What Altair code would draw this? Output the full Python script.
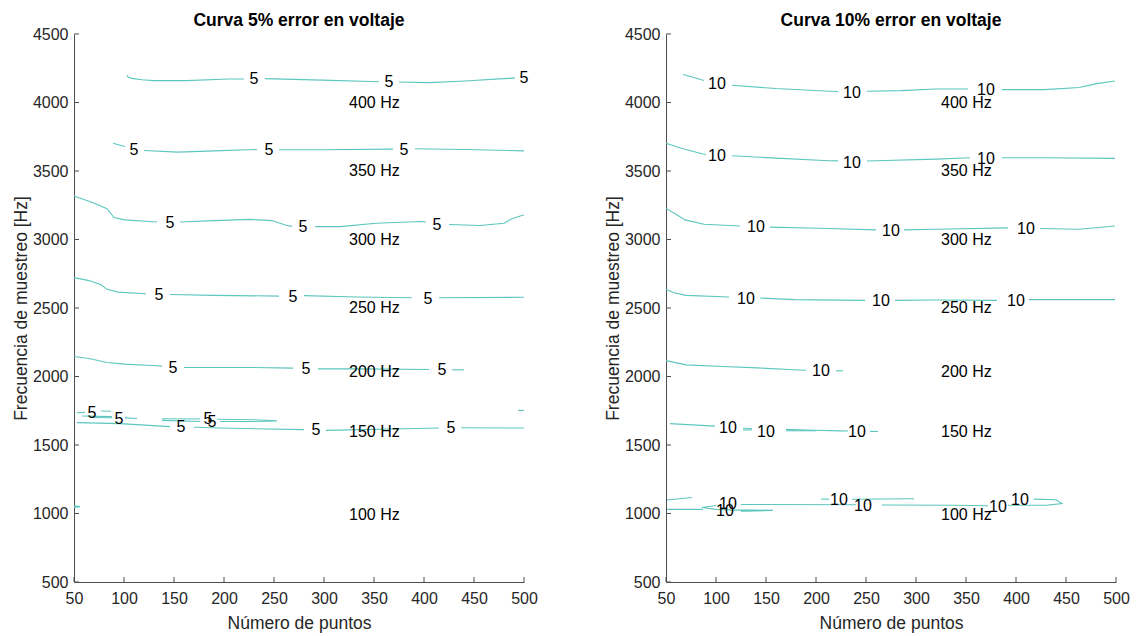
import altair as alt
import pandas as pd

FONT = "Liberation Sans"
LINE_COLOR = "#5cc6bf"

X_TICKS = [50, 100, 150, 200, 250, 300, 350, 400, 450, 500]
Y_TICKS = [500, 1000, 1500, 2000, 2500, 3000, 3500, 4000, 4500]

HZ_X = [325, 325, 325, 325, 325, 325, 325]
HZ_Y = [4000, 3500, 3000, 2500, 2030, 1592, 990]
HZ_TEXT = ["400 Hz", "350 Hz", "300 Hz", "250 Hz", "200 Hz", "150 Hz", "100 Hz"]

# ---------------- Left panel: 5 % contour ----------------
L400 = [
    [(103, 4198), (104, 4186), (108, 4176), (118, 4166), (130, 4160), (162, 4160), (205, 4172), (220, 4172)],
    [(241, 4174), (298, 4163), (355, 4152)],
    [(375, 4150), (405, 4145), (441, 4157), (484, 4176), (491, 4180)],
]
L350 = [
    [(89, 3703), (101, 3679)],
    [(120, 3650), (154, 3638), (190, 3647), (233, 3657)],
    [(255, 3655), (298, 3655), (369, 3660)],
    [(391, 3662), (441, 3657), (500, 3647)],
]
L300 = [
    [(50, 3317), (69, 3268), (83, 3225), (90, 3160), (101, 3143), (133, 3128)],
    [(156, 3128), (190, 3138), (226, 3147), (248, 3138), (262, 3104), (268, 3096)],
    [(291, 3094), (316, 3094), (352, 3119), (398, 3131), (402, 3128)],
    [(425, 3109), (456, 3102), (480, 3119), (488, 3152), (500, 3181)],
]
L250 = [
    [(50, 2722), (65, 2700), (77, 2669), (83, 2636), (94, 2616), (122, 2604)],
    [(146, 2599), (190, 2592), (255, 2587)],
    [(280, 2590), (334, 2580), (388, 2575)],
    [(415, 2575), (500, 2578)],
]
L200 = [
    [(50, 2146), (65, 2131), (83, 2102), (101, 2090), (133, 2078), (138, 2076)],
    [(160, 2066), (226, 2066), (269, 2061)],
    [(294, 2056), (333, 2056), (405, 2051)],
    [(428, 2049), (440, 2049)],
]
L150 = [
    [(53, 1735), (61, 1738)],
    [(77, 1748), (87, 1746)],
    [(58, 1712), (88, 1707)],
    [(66, 1701), (88, 1699)],
    [(101, 1698), (113, 1693)],
    [(138, 1692), (176, 1690)],
    [(193, 1688), (230, 1684), (253, 1676), (230, 1672), (196, 1672)],
    [(176, 1672), (138, 1680)],
    [(53, 1663), (96, 1656), (146, 1634)],
    [(170, 1630), (196, 1624), (280, 1612)],
    [(302, 1607), (380, 1619), (415, 1624)],
    [(437, 1626), (500, 1624)],
    [(494, 1753), (500, 1753)],
]
L100 = [
    [(50, 1056), (56, 1050), (50, 1045)],
]
LEFT_LABELS = [
    (230, 4171, "5"), (365, 4150, "5"), (500, 4178, "5"),
    (110, 3655, "5"), (245, 3652, "5"), (380, 3652, "5"),
    (146, 3123, "5"), (279, 3090, "5"), (413, 3107, "5"),
    (135, 2597, "5"), (269, 2582, "5"), (404, 2568, "5"),
    (149, 2063, "5"), (282, 2053, "5"), (418, 2046, "5"),
    (68, 1732, "5"), (95, 1690, "5"), (184, 1688, "5"), (188, 1665, "5"),
    (157, 1630, "5"), (292, 1607, "5"), (427, 1624, "5"),
]

# ---------------- Right panel: 10 % contour ----------------
R400 = [
    [(67, 4205), (78, 4182), (88, 4160)],
    [(116, 4126), (160, 4102), (213, 4082), (222, 4080)],
    [(251, 4082), (285, 4087), (320, 4099), (352, 4099)],
    [(386, 4094), (428, 4094), (463, 4109), (481, 4138), (499, 4157)],
]
R350 = [
    [(50, 3703), (67, 3662), (86, 3626), (90, 3620)],
    [(116, 3611), (160, 3594), (213, 3575), (222, 3574)],
    [(251, 3573), (320, 3587), (354, 3597)],
    [(386, 3597), (428, 3597), (499, 3592)],
]
R300 = [
    [(50, 3227), (60, 3184), (69, 3143), (88, 3111), (124, 3099)],
    [(154, 3090), (213, 3080), (260, 3070)],
    [(288, 3070), (320, 3075), (392, 3085)],
    [(424, 3080), (463, 3075), (499, 3099)],
]
R250 = [
    [(50, 2636), (58, 2611), (70, 2592), (113, 2580)],
    [(144, 2573), (178, 2561), (249, 2556)],
    [(279, 2556), (320, 2558), (381, 2556)],
    [(413, 2561), (499, 2561)],
]
R200 = [
    [(50, 2116), (70, 2085), (106, 2073), (142, 2063), (178, 2049), (190, 2046)],
    [(220, 2041), (227, 2041)],
]
R150 = [
    [(54, 1656), (99, 1638)],
    [(127, 1622), (136, 1620)],
    [(127, 1610), (136, 1610)],
    [(170, 1614), (197, 1608), (225, 1603), (232, 1602)],
    [(170, 1604), (200, 1604)],
    [(254, 1599), (262, 1599)],
]
R100 = [
    [(51, 1098), (76, 1117)],
    [(51, 1030), (87, 1030)],
    [(100, 1058), (86, 1044), (100, 1030), (120, 1025), (140, 1025), (157, 1023), (140, 1018), (125, 1017)],
    [(125, 1066), (240, 1064)],
    [(266, 1062), (340, 1060), (372, 1057)],
    [(392, 1060), (430, 1060), (446, 1072), (440, 1100), (418, 1105)],
    [(205, 1105), (213, 1105)],
    [(236, 1104), (298, 1108)],
]
RIGHT_LABELS = [
    (101, 4138, "10"), (236, 4072, "10"), (370, 4091, "10"),
    (101, 3611, "10"), (236, 3560, "10"), (370, 3590, "10"),
    (140, 3090, "10"), (275, 3063, "10"), (410, 3080, "10"),
    (130, 2568, "10"), (265, 2549, "10"), (400, 2553, "10"),
    (205, 2041, "10"),
    (112, 1627, "10"), (150, 1597, "10"), (241, 1597, "10"),
    (112, 1066, "10"), (109, 1015, "10"), (223, 1098, "10"),
    (247, 1056, "10"), (382, 1049, "10"), (404, 1100, "10"),
]


def lines_df(curves):
    rows = []
    sid = 0
    for curve in curves:
        for seg in curve:
            for i, (x, y) in enumerate(seg):
                rows.append({"seg": sid, "i": i, "x": x, "y": y})
            sid += 1
    return pd.DataFrame(rows)


AX_COMMON = dict(
    ticks=False, grid=False, format="d", domainColor="#4d4d4d",
    labelFont=FONT, labelFontSize=16, labelColor="#262626",
    titleFont=FONT, titleFontSize=17.5, titleFontWeight="normal",
    titleColor="#262626",
)


def panel(curves, labels, title):
    xs = alt.Scale(domain=[50, 500], nice=False, zero=False)
    ys = alt.Scale(domain=[500, 4500], nice=False, zero=False)
    xax = alt.Axis(values=X_TICKS, labelPadding=8, titlePadding=8,
                   labelFlush=False, **AX_COMMON)
    yax = alt.Axis(values=Y_TICKS, labelPadding=6, titleX=-44, titleY=274,
                   labelFlush=False, **AX_COMMON)

    line = alt.Chart(lines_df(curves)).mark_line(
        color=LINE_COLOR, strokeWidth=1.1
    ).encode(
        x=alt.X("x:Q", scale=xs, axis=xax, title="Número de puntos"),
        y=alt.Y("y:Q", scale=ys, axis=yax, title="Frecuencia de muestreo [Hz]"),
        detail="seg:N",
        order="i:Q",
    )
    lab_df = pd.DataFrame(labels, columns=["x", "y", "t"])
    labs = alt.Chart(lab_df).mark_text(
        font=FONT, fontSize=16, color="#000000", baseline="middle", align="center"
    ).encode(x=alt.X("x:Q", scale=xs), y=alt.Y("y:Q", scale=ys), text="t:N")

    hz_df = pd.DataFrame({"x": HZ_X, "y": HZ_Y, "t": HZ_TEXT})
    hz = alt.Chart(hz_df).mark_text(
        font=FONT, fontSize=16, color="#000000", baseline="middle", align="left"
    ).encode(x=alt.X("x:Q", scale=xs), y=alt.Y("y:Q", scale=ys), text="t:N")

    xt = alt.Chart(pd.DataFrame({"v": X_TICKS})).mark_rule(
        color="#4d4d4d", strokeWidth=1
    ).encode(x=alt.X("v:Q", scale=xs), y=alt.value(548), y2=alt.value(543))
    yt = alt.Chart(pd.DataFrame({"v": Y_TICKS})).mark_rule(
        color="#4d4d4d", strokeWidth=1
    ).encode(y=alt.Y("v:Q", scale=ys), x=alt.value(0), x2=alt.value(5))

    return alt.layer(line, labs, hz, xt, yt).properties(
        width=450, height=548,
        title=alt.Title(title, font=FONT, fontSize=17.5, fontWeight="bold",
                        color="#000000", offset=-3),
    )


left = panel([L400, L350, L300, L250, L200, L150, L100], LEFT_LABELS,
             "Curva 5% error en voltaje")
right = panel([R400, R350, R300, R250, R200, R150, R100], RIGHT_LABELS,
              "Curva 10% error en voltaje")

chart = alt.hconcat(left, right, spacing=66).properties(
    padding={"left": 12, "top": 11, "right": 5, "bottom": 5},
    background="white",
).configure_view(stroke=None)

chart.save("out.html", embed_options={"renderer": "svg", "actions": False})
